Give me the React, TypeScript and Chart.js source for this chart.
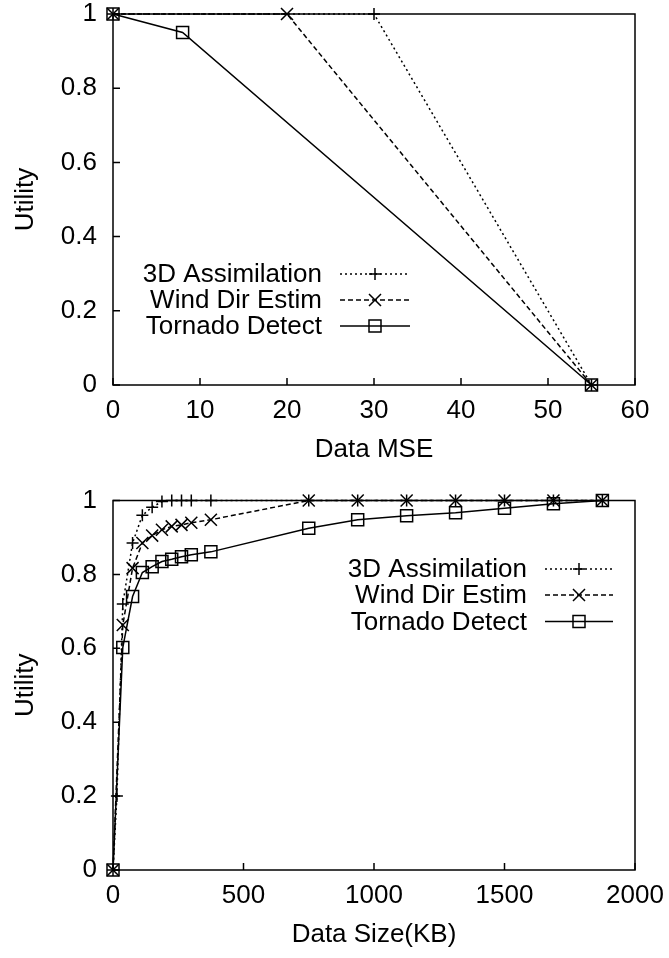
import React, { useEffect, useRef } from 'react';
import { Chart, registerables } from 'chart.js';

Chart.register(...registerables);

const seriesNames = ['3D Assimilation', 'Wind Dir Estim', 'Tornado Detect'];

// Top chart: utility vs Data MSE
const mseAssimX = [0, 30, 55];
const mseAssimY = [1, 1, 0];
const mseWindX = [0, 20, 55];
const mseWindY = [1, 1, 0];
const mseTornadoX = [0, 8, 55];
const mseTornadoY = [1, 0.95, 0];

// Bottom chart: utility vs Data Size (KB)
const sizeAssimX = [0, 15, 37.5, 75, 112.5, 150, 187.5, 225, 262.5, 300, 375, 750, 937.5, 1125, 1312.5, 1500, 1687.5, 1875];
const sizeAssimY = [0, 0.2, 0.72, 0.885, 0.96, 0.982, 0.997, 1, 1, 1, 1, 1, 1, 1, 1, 1, 1, 1];
const sizeWindX = [0, 37.5, 75, 112.5, 150, 187.5, 225, 262.5, 300, 375, 750, 937.5, 1125, 1312.5, 1500, 1687.5, 1875];
const sizeWindY = [0, 0.663, 0.817, 0.885, 0.905, 0.921, 0.93, 0.934, 0.94, 0.948, 1, 1, 1, 1, 1, 1, 1];
const sizeTornadoX = [0, 37.5, 75, 112.5, 150, 187.5, 225, 262.5, 300, 375, 750, 937.5, 1125, 1312.5, 1500, 1687.5, 1875];
const sizeTornadoY = [0, 0.602, 0.74, 0.805, 0.821, 0.835, 0.841, 0.848, 0.853, 0.861, 0.925, 0.948, 0.959, 0.967, 0.979, 0.991, 1];

const FONT = "'Liberation Sans', Arial, sans-serif";
const FS = 26;

const dashes = [[2, 3], [5, 3], []];
const markers = ['cross', 'crossRot', 'rect'];
const radii = [6, 8.5, 8.5];

function zip(xs: number[], ys: number[]) {
  return xs.map((x, i) => ({ x, y: ys[i] }));
}

function drawMarker(ctx: CanvasRenderingContext2D, kind: string, x: number, y: number) {
  ctx.beginPath();
  if (kind === 'cross') {
    ctx.moveTo(x - 6, y); ctx.lineTo(x + 6, y);
    ctx.moveTo(x, y - 6); ctx.lineTo(x, y + 6);
  } else if (kind === 'crossRot') {
    ctx.moveTo(x - 6, y - 6); ctx.lineTo(x + 6, y + 6);
    ctx.moveTo(x - 6, y + 6); ctx.lineTo(x + 6, y - 6);
  } else {
    ctx.rect(x - 6, y - 6, 12, 12);
  }
  ctx.stroke();
}

const framePlugin = {
  id: 'gnuframe',
  beforeDatasetsDraw(chart: any) {
    const { ctx, chartArea: a, scales } = chart;
    ctx.save();
    ctx.strokeStyle = '#000';
    ctx.lineWidth = 1.5;
    ctx.setLineDash([]);
    ctx.strokeRect(a.left, a.top, a.right - a.left, a.bottom - a.top);
    const tl = 7;
    ctx.beginPath();
    scales.x.ticks.forEach((t: any) => {
      const px = scales.x.getPixelForValue(t.value);
      ctx.moveTo(px, a.bottom);
      ctx.lineTo(px, a.bottom - tl);
    });
    scales.y.ticks.forEach((t: any) => {
      const py = scales.y.getPixelForValue(t.value);
      ctx.moveTo(a.left, py);
      ctx.lineTo(a.left + tl, py);
    });
    ctx.stroke();
    ctx.restore();
  },
  afterDraw(chart: any, _args: any, opts: any) {
    const { ctx } = chart;
    ctx.save();
    ctx.font = `${FS}px ${FONT}`;
    ctx.fillStyle = '#000';
    ctx.textAlign = 'right';
    ctx.textBaseline = 'middle';
    seriesNames.forEach((name, i) => {
      const y = opts.rowY[i];
      ctx.fillText(name, opts.textRight, y + 1);
      ctx.strokeStyle = '#000';
      ctx.lineWidth = 1.5;
      ctx.setLineDash(dashes[i]);
      ctx.beginPath();
      ctx.moveTo(opts.sampleLeft, y);
      ctx.lineTo(opts.sampleRight, y);
      ctx.stroke();
      ctx.setLineDash([]);
      drawMarker(ctx, markers[i], (opts.sampleLeft + opts.sampleRight) / 2, y);
    });
    ctx.restore();
  },
};

function makeDatasets(series: { x: number[]; y: number[] }[]) {
  return series.map((s, i) => ({
    label: seriesNames[i],
    data: zip(s.x, s.y),
    borderColor: '#000',
    borderWidth: 1.5,
    borderDash: dashes[i],
    pointStyle: markers[i],
    pointRadius: radii[i],
    pointBorderColor: '#000',
    pointBackgroundColor: 'rgba(0,0,0,0)',
    pointBorderWidth: 1.5,
    tension: 0,
    clip: false,
    fill: false,
  }));
}

interface PanelProps {
  height: number;
  padTop: number;
  plotBottom: number;
  xMax: number;
  xStep: number;
  xTitle: string;
  titlePadBottom: number;
  series: { x: number[]; y: number[] }[];
  legend: { textRight: number; sampleLeft: number; sampleRight: number; rowY: number[] };
}

function Panel(p: PanelProps) {
  const ref = useRef<HTMLCanvasElement>(null);
  useEffect(() => {
    if (!ref.current) return;
    const chart = new Chart(ref.current, {
      type: 'line',
      data: { datasets: makeDatasets(p.series) as any },
      options: {
        animation: false,
        responsive: false,
        devicePixelRatio: 1,
        layout: { padding: { left: 0, right: 34, top: p.padTop, bottom: 0 } },
        plugins: {
          legend: { display: false },
          tooltip: { enabled: false },
          gnuframe: p.legend,
        } as any,
        scales: {
          x: {
            type: 'linear',
            min: 0,
            max: p.xMax,
            grid: { display: false, drawTicks: false },
            border: { display: false },
            ticks: {
              stepSize: p.xStep,
              padding: 13,
              color: '#000',
              font: { family: FONT, size: FS, lineHeight: 1 },
              callback: (v: any) => String(v),
              maxRotation: 0,
            },
            title: {
              display: true,
              text: p.xTitle,
              color: '#000',
              font: { family: FONT, size: FS, lineHeight: 1.2 },
              padding: { top: 0, bottom: p.titlePadBottom },
            },
            afterFit: (s: any) => {
              s.height = p.height - p.plotBottom;
              s.paddingLeft = 0;
              s.paddingRight = 0;
              s.paddingTop = 0;
              s.paddingBottom = 0;
            },
          },
          y: {
            type: 'linear',
            min: 0,
            max: 1,
            grid: { display: false, drawTicks: false },
            border: { display: false },
            ticks: {
              stepSize: 0.2,
              padding: 16,
              color: '#000',
              font: { family: FONT, size: FS, lineHeight: 1 },
              callback: (v: any) => String(Math.round(Number(v) * 10) / 10),
            },
            title: {
              display: true,
              text: 'Utility',
              color: '#000',
              font: { family: FONT, size: FS, lineHeight: 1.2 },
              padding: { top: 10, bottom: 0 },
            },
            afterFit: (s: any) => {
              s.width = 113;
              s.paddingLeft = 0;
              s.paddingRight = 0;
              s.paddingTop = 0;
              s.paddingBottom = 0;
            },
          },
        },
      } as any,
      plugins: [framePlugin as any],
    });
    return () => chart.destroy();
  }, []);
  return <canvas ref={ref} width={669} height={p.height} style={{ display: 'block' }} />;
}

export default function App() {
  return (
    <div style={{ position: 'absolute', left: 0, top: 0, width: 669, height: 958, overflow: 'hidden', background: '#fff' }}>
      <Panel
        height={486}
        padTop={14}
        plotBottom={385}
        xMax={60}
        xStep={10}
        xTitle="Data MSE"
        titlePadBottom={21}
        series={[
          { x: mseAssimX, y: mseAssimY },
          { x: mseWindX, y: mseWindY },
          { x: mseTornadoX, y: mseTornadoY },
        ]}
        legend={{ textRight: 322, sampleLeft: 340, sampleRight: 410, rowY: [274, 300, 326] }}
      />
      <Panel
        height={472}
        padTop={14.5}
        plotBottom={384}
        xMax={2000}
        xStep={500}
        xTitle="Data Size(KB)"
        titlePadBottom={8}
        series={[
          { x: sizeAssimX, y: sizeAssimY },
          { x: sizeWindX, y: sizeWindY },
          { x: sizeTornadoX, y: sizeTornadoY },
        ]}
        legend={{ textRight: 527, sampleLeft: 545, sampleRight: 613, rowY: [83, 109, 135.5] }}
      />
    </div>
  );
}
